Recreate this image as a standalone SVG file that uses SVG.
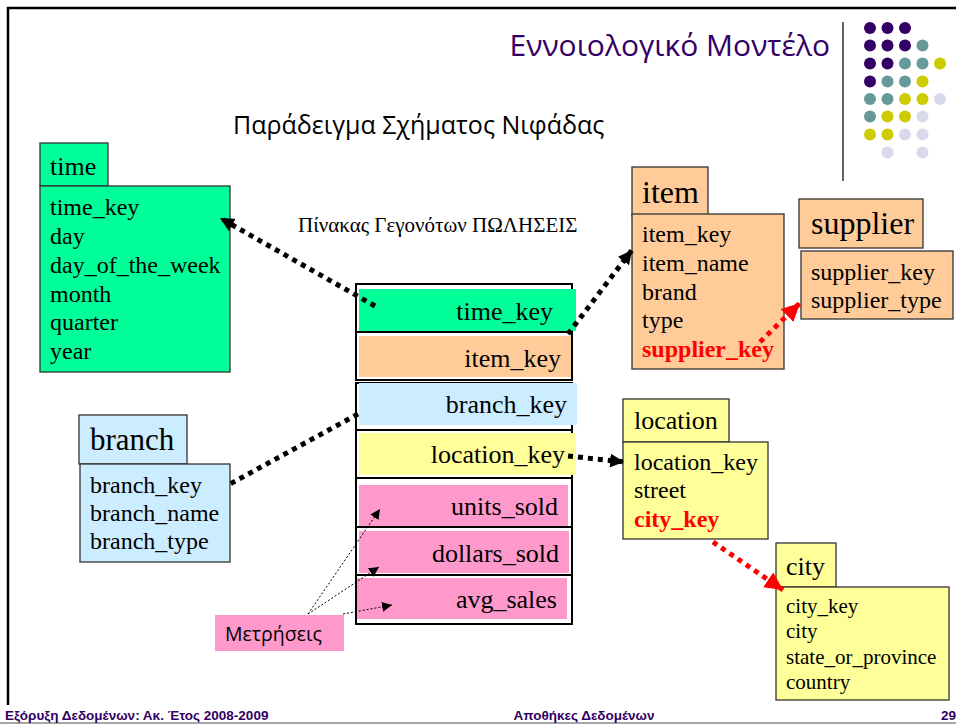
<svg xmlns="http://www.w3.org/2000/svg" width="956" height="725" viewBox="0 0 956 725">
  <style>
    .hdr { font-family: "Liberation Serif", "DejaVu Serif", serif; fill: #000; }
    .fld { font-family: "Liberation Serif", "DejaVu Serif", serif; fill: #000; }
    .f24 { font-size: 24px; }
    .f21 { font-size: 21px; }
    .key { fill: #FF0000; font-weight: bold; }
    .fact { font-family: "Liberation Serif", "DejaVu Serif", serif; font-size: 26px; fill: #000; text-anchor: end; }
    .box { stroke: #333; stroke-width: 1.3; }
    .cell { fill: none; stroke: #000; stroke-width: 2; }
    .foot { font-family: "Liberation Sans", Arial, sans-serif; font-size: 13.5px; font-weight: bold; fill: #330066; }
    .dots { fill: none; stroke: #000; stroke-width: 5; stroke-dasharray: 5 5; }
    .rdots { fill: none; stroke: #FF0000; stroke-width: 5; stroke-dasharray: 5 5; }
    .thin { fill: none; stroke: #000; stroke-width: 1; stroke-dasharray: 2 2; }
    .green { fill: #00FF99; }
    .orange { fill: #FFCC99; }
    .blue { fill: #CCECFF; }
    .yellow { fill: #FFFF99; }
    .pink { fill: #FF99CC; }
  </style>
  <defs>
    <marker id="ahBlack" markerWidth="14" markerHeight="14" refX="10" refY="5" orient="auto" markerUnits="userSpaceOnUse" viewBox="0 0 10 10">
      <path d="M0,0 L10,5 L0,10 Z" fill="#000"/>
    </marker>
    <marker id="ahRed" markerWidth="18" markerHeight="18" refX="10" refY="5" orient="auto" markerUnits="userSpaceOnUse" viewBox="0 0 10 10">
      <path d="M0,0 L10,5 L0,10 Z" fill="#FF0000"/>
    </marker>
    <marker id="ahThin" markerWidth="10" markerHeight="10" refX="10" refY="5" orient="auto" markerUnits="userSpaceOnUse" viewBox="0 0 10 10">
      <path d="M0,0 L10,5 L0,10 Z" fill="#000"/>
    </marker>
  </defs>

  <!-- slide frame -->
  <rect width="956" height="725" fill="#fff"/>
  <path d="M8,705 L8,8 L956,8" fill="none" stroke="#000" stroke-width="2.5"/>
  <line x1="0" y1="723" x2="956" y2="723" stroke="#888" stroke-width="1.5"/>

  <!-- title area -->
  <text x="830" y="56" text-anchor="end" font-family="'Open Sans', 'Noto Sans', sans-serif" font-size="30" fill="#330066">Εννοιολογικό Μοντέλο</text>
  <line x1="843" y1="22" x2="843" y2="181" stroke="#666" stroke-width="2"/>
  <g id="logo-dots">
    <g fill="#330066">
      <circle cx="870" cy="28" r="6"/><circle cx="887.5" cy="28" r="6"/><circle cx="905" cy="28" r="6"/>
      <circle cx="870" cy="45.5" r="6"/><circle cx="887.5" cy="45.5" r="6"/><circle cx="905" cy="45.5" r="6"/>
      <circle cx="870" cy="63.5" r="6"/><circle cx="887.5" cy="63.5" r="6"/>
      <circle cx="870" cy="81.5" r="6"/>
    </g>
    <g fill="#669999">
      <circle cx="922.5" cy="45.5" r="6"/>
      <circle cx="905" cy="63.5" r="6"/><circle cx="922.5" cy="63.5" r="6"/>
      <circle cx="887.5" cy="81.5" r="6"/><circle cx="905" cy="81.5" r="6"/>
      <circle cx="870" cy="99" r="6"/><circle cx="887.5" cy="99" r="6"/>
      <circle cx="870" cy="116.5" r="6"/>
    </g>
    <g fill="#CCCC00">
      <circle cx="940" cy="63.5" r="6"/>
      <circle cx="922.5" cy="81.5" r="6"/>
      <circle cx="905" cy="99" r="6"/><circle cx="922.5" cy="99" r="6"/>
      <circle cx="887.5" cy="116.5" r="6"/><circle cx="905" cy="116.5" r="6"/>
      <circle cx="870" cy="134.5" r="6"/><circle cx="887.5" cy="134.5" r="6"/>
    </g>
    <g fill="#D9D9EC">
      <circle cx="940" cy="99" r="6"/>
      <circle cx="922.5" cy="116.5" r="6"/>
      <circle cx="905" cy="134.5" r="6"/><circle cx="922.5" cy="134.5" r="6"/>
      <circle cx="887.5" cy="152.5" r="6"/><circle cx="922.5" cy="152.5" r="6"/>
    </g>
  </g>

  <text x="233" y="134" font-family="'Open Sans', 'Noto Sans', sans-serif" font-size="25" fill="#000">Παράδειγμα Σχήματος Νιφάδας</text>
  <text x="298" y="232" font-family="'Liberation Serif', serif" font-size="21" fill="#000">Πίνακας Γεγονότων ΠΩΛΗΣΕΙΣ</text>

  <!-- dimension: time -->
  <g id="time">
    <rect class="box green" x="40" y="143" width="68" height="43"/>
    <text class="hdr" x="50" y="175" font-size="26">time</text>
    <rect class="box green" x="40" y="186" width="190" height="186"/>
    <text class="fld f24" x="50" y="215">time_key</text>
    <text class="fld f24" x="50" y="244">day</text>
    <text class="fld f24" x="50" y="273">day_of_the_week</text>
    <text class="fld f24" x="50" y="302">month</text>
    <text class="fld f24" x="50" y="330">quarter</text>
    <text class="fld f24" x="50" y="359">year</text>
  </g>

  <!-- dimension: branch -->
  <g id="branch">
    <rect class="box blue" x="79" y="415" width="108" height="49"/>
    <text class="hdr" x="90" y="450" font-size="31">branch</text>
    <rect class="box blue" x="80" y="464" width="150" height="98"/>
    <text class="fld f24" x="90" y="493">branch_key</text>
    <text class="fld f24" x="90" y="521">branch_name</text>
    <text class="fld f24" x="90" y="549">branch_type</text>
  </g>

  <!-- fact table -->
  <g id="sales-fact">
    <rect class="cell" x="356" y="284" width="216" height="48"/>
    <rect class="green" x="359" y="289" width="217" height="42"/>
    <text class="fact" x="553" y="320">time_key</text>

    <rect class="cell" x="356" y="332" width="216" height="48"/>
    <rect class="orange" x="359" y="336" width="212" height="41"/>
    <text class="fact" x="561" y="367">item_key</text>

    <rect class="cell" x="356" y="383" width="216" height="47"/>
    <rect class="blue" x="359" y="383" width="218" height="42"/>
    <text class="fact" x="567" y="413">branch_key</text>

    <rect class="cell" x="356" y="430" width="216" height="48"/>
    <rect class="yellow" x="359" y="433" width="217" height="42"/>
    <text class="fact" x="565" y="463">location_key</text>

    <rect class="cell" x="356" y="478" width="216" height="49"/>
    <rect class="pink" x="359" y="485" width="209" height="42"/>
    <text class="fact" x="558" y="515">units_sold</text>

    <rect class="cell" x="356" y="527" width="216" height="48"/>
    <rect class="pink" x="359" y="531" width="210" height="42"/>
    <text class="fact" x="559" y="562">dollars_sold</text>

    <rect class="cell" x="356" y="575" width="216" height="49"/>
    <rect class="pink" x="357" y="578" width="210" height="41"/>
    <text class="fact" x="557" y="608">avg_sales</text>
  </g>

  <!-- dimension: item -->
  <g id="item">
    <rect class="box orange" x="632" y="167" width="76" height="49"/>
    <text class="hdr" x="642" y="203" font-size="32">item</text>
    <rect class="box orange" x="632" y="214" width="152" height="155"/>
    <text class="fld f24" x="642" y="242">item_key</text>
    <text class="fld f24" x="642" y="271">item_name</text>
    <text class="fld f24" x="642" y="300">brand</text>
    <text class="fld f24" x="642" y="328">type</text>
    <text class="fld f24 key" x="642" y="357">supplier_key</text>
  </g>

  <!-- dimension: supplier -->
  <g id="supplier">
    <rect class="box orange" x="799" y="199" width="124" height="49"/>
    <text class="hdr" x="811" y="234" font-size="32">supplier</text>
    <rect class="box orange" x="801" y="251" width="152" height="68"/>
    <text class="fld f24" x="811" y="280">supplier_key</text>
    <text class="fld f24" x="811" y="308">supplier_type</text>
  </g>

  <!-- dimension: location -->
  <g id="location">
    <rect class="box yellow" x="623" y="399" width="106" height="43"/>
    <text class="hdr" x="634" y="429" font-size="26">location</text>
    <rect class="box yellow" x="623" y="442" width="145" height="97"/>
    <text class="fld f24" x="634" y="470">location_key</text>
    <text class="fld f24" x="634" y="498">street</text>
    <text class="fld f24 key" x="634" y="527">city_key</text>
  </g>

  <!-- dimension: city -->
  <g id="city">
    <rect class="box yellow" x="776" y="543" width="60" height="44"/>
    <text class="hdr" x="786" y="575" font-size="26">city</text>
    <rect class="box yellow" x="776" y="587" width="173" height="113"/>
    <text class="fld f21" x="786" y="613">city_key</text>
    <text class="fld f21" x="786" y="638">city</text>
    <text class="fld f21" x="786" y="664">state_or_province</text>
    <text class="fld f21" x="786" y="689">country</text>
  </g>

  <!-- measures label -->
  <g id="measures">
    <rect class="pink" x="215" y="615" width="129" height="36"/>
    <text x="225" y="641" font-family="'Open Sans', 'Noto Sans', sans-serif" font-size="19.5" fill="#000">Μετρήσεις</text>
  </g>

  <!-- connectors -->
  <g id="connectors">
    <path class="dots" d="M375,306 L220,218" marker-end="url(#ahBlack)"/>
    <path class="dots" d="M568,334 L632,250" marker-end="url(#ahBlack)"/>
    <path class="dots" d="M358,414 L230,484"/>
    <path class="dots" d="M568,456 L624,462" marker-end="url(#ahBlack)"/>
    <path class="rdots" d="M760,342 L800,303" marker-end="url(#ahRed)"/>
    <path class="rdots" d="M713,542 L783,590" marker-end="url(#ahRed)"/>
    <path class="thin" d="M308,614 L380,509" marker-end="url(#ahThin)"/>
    <path class="thin" d="M308,614 L379,567" marker-end="url(#ahThin)"/>
    <path class="thin" d="M343,614 L392,605" marker-end="url(#ahThin)"/>
  </g>

  <!-- footer -->
  <text class="foot" x="5" y="720">Εξόρυξη Δεδομένων: Ακ. Έτος 2008-2009</text>
  <text class="foot" x="584" y="720" text-anchor="middle">Αποθήκες Δεδομένων</text>
  <text class="foot" x="956" y="720" text-anchor="end">29</text>
</svg>
